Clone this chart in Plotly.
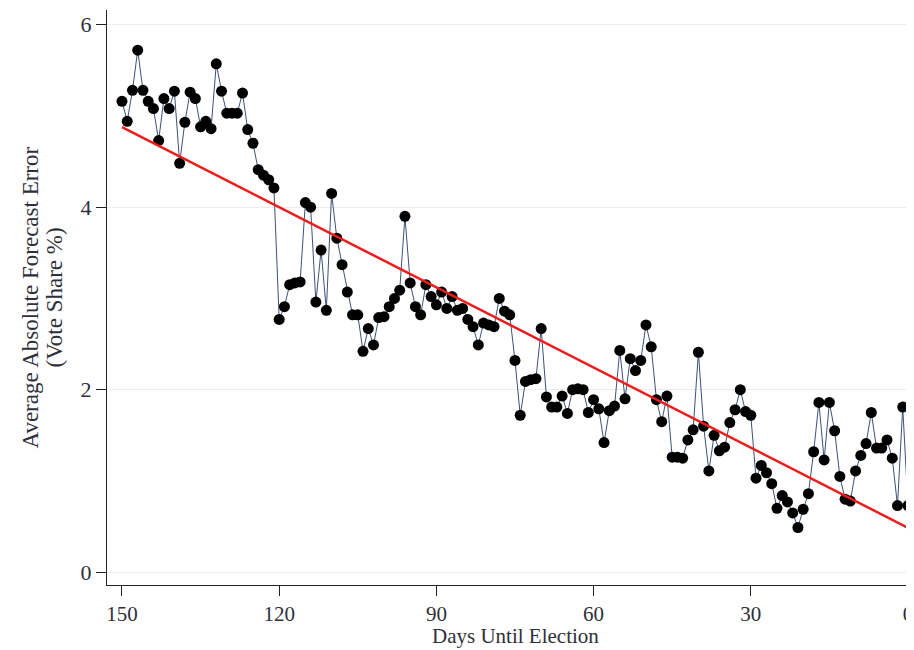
import numpy as np
import plotly.graph_objects as go

days = list(range(150, -1, -1))
errors = [
    5.16, 4.94, 5.28, 5.72, 5.28, 5.16, 5.08, 4.73, 5.19, 5.08,   # 150-141
    5.27, 4.48, 4.93, 5.26, 5.19, 4.88, 4.94, 4.86, 5.57, 5.27,   # 140-131
    5.03, 5.03, 5.03, 5.25, 4.85, 4.70, 4.41, 4.35, 4.30, 4.21,   # 130-121
    2.77, 2.91, 3.15, 3.17, 3.18, 4.05, 4.00, 2.96, 3.53, 2.87,   # 120-111
    4.15, 3.66, 3.37, 3.07, 2.82, 2.82, 2.42, 2.67, 2.49, 2.79,   # 110-101
    2.80, 2.91, 3.00, 3.09, 3.90, 3.17, 2.91, 2.82, 3.15, 3.02,   # 100-91
    2.93, 3.07, 2.89, 3.02, 2.87, 2.89, 2.77, 2.69, 2.49, 2.73,   # 90-81
    2.71, 2.69, 3.00, 2.86, 2.82, 2.32, 1.72, 2.09, 2.11, 2.12,   # 80-71
    2.67, 1.92, 1.81, 1.81, 1.93, 1.74, 2.00, 2.01, 2.00, 1.75,   # 70-61
    1.89, 1.79, 1.42, 1.77, 1.82, 2.43, 1.90, 2.34, 2.21, 2.32,   # 60-51
    2.71, 2.47, 1.89, 1.65, 1.93, 1.26, 1.26, 1.25, 1.45, 1.56,   # 50-41
    2.41, 1.60, 1.11, 1.50, 1.33, 1.37, 1.64, 1.78, 2.00, 1.76,   # 40-31
    1.72, 1.03, 1.17, 1.09, 0.97, 0.70, 0.84, 0.77, 0.65, 0.49,   # 30-21
    0.69, 0.86, 1.32, 1.86, 1.23, 1.86, 1.55, 1.05, 0.80, 0.78,   # 20-11
    1.11, 1.28, 1.41, 1.75, 1.36, 1.36, 1.45, 1.25, 0.73, 1.81,   # 10-1
    0.73,                                                         # 0
]

x_ticks = [150, 120, 90, 60, 30, 0]
y_ticks = [0, 2, 4, 6]
x_title = "Days Until Election"
y_title_1 = "Average Absolute Forecast Error"
y_title_2 = "(Vote Share %)"

slope, intercept = np.polyfit(days, errors, 1)
fit_x = [150, -0.5]
fit_y = [intercept + slope * d for d in fit_x]

serif = "Liberation Serif, Times New Roman, serif"
txt = "#2f2f3a"

fig = go.Figure()
fig.add_trace(go.Scatter(
    x=days, y=errors, mode="lines+markers",
    line=dict(color="#3a5378", width=1),
    marker=dict(color="black", size=11),
    showlegend=False,
))
fig.add_trace(go.Scatter(
    x=fit_x, y=fit_y, mode="lines",
    line=dict(color="#ee1c1c", width=2.5),
    showlegend=False,
))

# page body has an 8px margin; margins below compensate so the plot sits where the reference has it
fig.update_layout(
    width=914, height=650,
    margin=dict(l=99, r=8, t=2, b=73),
    paper_bgcolor="white", plot_bgcolor="white",
    font=dict(family=serif, color=txt),
)
fig.update_xaxes(
    range=[152.86, -1.15], tickvals=x_ticks, ticktext=[str(t) for t in x_ticks],
    showgrid=False, zeroline=False, showline=True, linecolor="#222", linewidth=1.3,
    ticks="outside", ticklen=10, tickcolor="#222", tickwidth=1.3,
    tickfont=dict(size=21, family=serif, color=txt), ticklabeloverflow="allow",
)
fig.update_yaxes(
    range=[-0.14, 6.16], tickvals=y_ticks, ticktext=[str(t) for t in y_ticks],
    showgrid=True, gridcolor="#ececec", gridwidth=1, zeroline=False,
    showline=True, linecolor="#222", linewidth=1.3,
    ticks="outside", ticklen=10, tickcolor="#222", tickwidth=1.3,
    tickfont=dict(size=22, family=serif, color=txt),
)

fig.add_annotation(text=x_title, xref="paper", yref="paper", x=0.5, y=0,
                   xanchor="center", yanchor="middle", xshift=5, yshift=-51,
                   showarrow=False, font=dict(size=21, family=serif, color=txt))
fig.add_annotation(text=y_title_1, xref="paper", yref="paper", x=0, y=0.5,
                   xanchor="center", yanchor="middle", xshift=-77, textangle=-90,
                   showarrow=False, font=dict(size=23, family=serif, color=txt))
fig.add_annotation(text=y_title_2, xref="paper", yref="paper", x=0, y=0.5,
                   xanchor="center", yanchor="middle", xshift=-53, textangle=-90,
                   showarrow=False, font=dict(size=23, family=serif, color=txt))

fig.write_html("out.html")
